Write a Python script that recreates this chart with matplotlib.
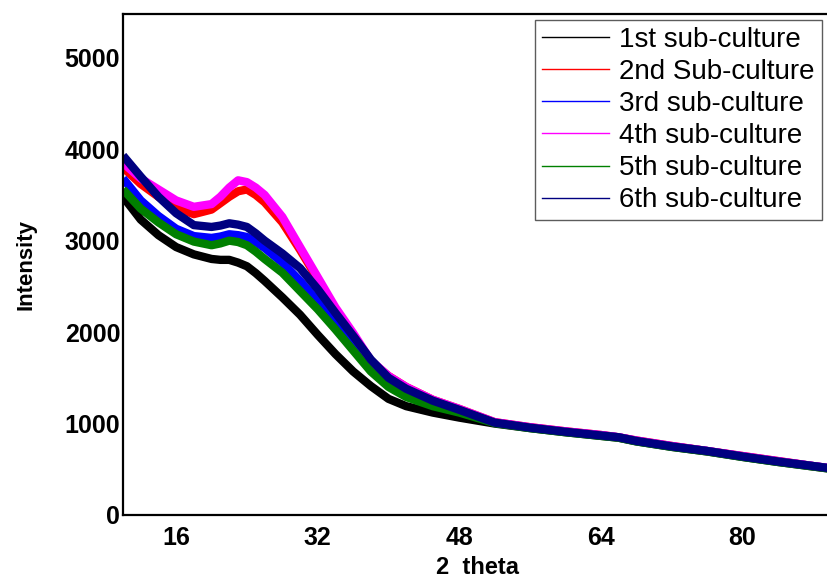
import numpy as np
import matplotlib
matplotlib.use("Agg")
import matplotlib.pyplot as plt
from matplotlib.lines import Line2D

plt.rcParams['font.family'] = ['Liberation Sans', 'DejaVu Sans']

two_theta = [10, 12, 14, 16, 18, 20, 21, 22, 23, 24, 25, 26, 28, 30, 32, 34, 36, 38, 40,
             42, 45, 48, 52, 56, 60, 64, 66, 68, 72, 76, 80, 84, 88, 90]

# intensities, one list per sub-culture
sub1 = [3480, 3230, 3060, 2930, 2850, 2800, 2790, 2790, 2760, 2720, 2645, 2560, 2380, 2190, 1970, 1760,
        1570, 1410, 1270, 1190, 1120, 1065, 1000, 950, 905, 865, 845, 805, 745, 695, 635, 580, 530, 505]
sub2 = [3800, 3620, 3480, 3360, 3290, 3340, 3410, 3480, 3540, 3560, 3500, 3420, 3200, 2900, 2580, 2250,
        1960, 1680, 1520, 1400, 1260, 1160, 1015, 960, 915, 875, 850, 815, 755, 700, 645, 590, 535, 510]
sub3 = [3680, 3440, 3270, 3130, 3050, 3030, 3045, 3070, 3060, 3040, 2985, 2920, 2760, 2560, 2340, 2110,
        1870, 1640, 1470, 1350, 1230, 1140, 1010, 955, 910, 870, 850, 810, 750, 700, 640, 585, 535, 510]
sub4 = [3850, 3680, 3560, 3440, 3370, 3400, 3480, 3580, 3660, 3640, 3580, 3500, 3260, 2930, 2600, 2270,
        1990, 1690, 1520, 1400, 1260, 1160, 1015, 960, 915, 875, 850, 815, 755, 700, 645, 590, 535, 510]
sub5 = [3560, 3350, 3200, 3070, 2990, 2950, 2970, 3000, 2985, 2950, 2880, 2800, 2650, 2450, 2250, 2030,
        1800, 1570, 1400, 1290, 1190, 1120, 1005, 950, 905, 865, 845, 805, 745, 695, 635, 580, 530, 505]
sub6 = [3930, 3700, 3480, 3300, 3170, 3150, 3165, 3190, 3175, 3150, 3080, 3000, 2860, 2700, 2470, 2210,
        1960, 1700, 1500, 1380, 1250, 1150, 1010, 955, 910, 870, 850, 810, 750, 700, 640, 585, 535, 510]

labels = ['1st sub-culture', '2nd Sub-culture', '3rd sub-culture',
          '4th sub-culture', '5th sub-culture', '6th sub-culture']
colors = ['#000000', '#ff0000', '#0000ff', '#ff00ff', '#008000', '#000080']
series = [sub1, sub2, sub3, sub4, sub5, sub6]

fig = plt.figure(figsize=(8.28, 5.78), dpi=100)
ax = fig.add_axes([0.1486, 0.109, 0.855, 0.867])

for vals, col in zip(series, colors):
    ax.plot(two_theta, vals, color=col, lw=6, solid_capstyle='butt', solid_joinstyle='round')

ax.set_xlim(10, 90)
ax.set_ylim(0, 5480)
ax.set_xticks([16, 32, 48, 64, 80])
ax.set_yticks([0, 1000, 2000, 3000, 4000, 5000])
ax.tick_params(length=0, labelsize=18)
ax.tick_params(axis='x', pad=8)
ax.tick_params(axis='y', pad=2)
for lab in ax.get_xticklabels() + ax.get_yticklabels():
    lab.set_fontweight('bold')
for sp in ax.spines.values():
    sp.set_linewidth(1.6)

ax.set_xlabel('2  theta', fontsize=17, fontweight='bold', labelpad=4)
ax.set_ylabel('Intensity', fontsize=16, fontweight='bold', labelpad=20)

handles = [Line2D([], [], color=c, lw=1.0) for c in colors]
leg = ax.legend(handles, labels, loc='upper right', bbox_to_anchor=(0.987, 0.988),
                fontsize=20, frameon=True, fancybox=False, handlelength=2.4,
                handletextpad=0.38, labelspacing=0.22, borderpad=0.25, borderaxespad=0)
leg.get_frame().set_edgecolor('#333333')
leg.get_frame().set_linewidth(1.0)

fig.savefig('out.png', dpi=100)
